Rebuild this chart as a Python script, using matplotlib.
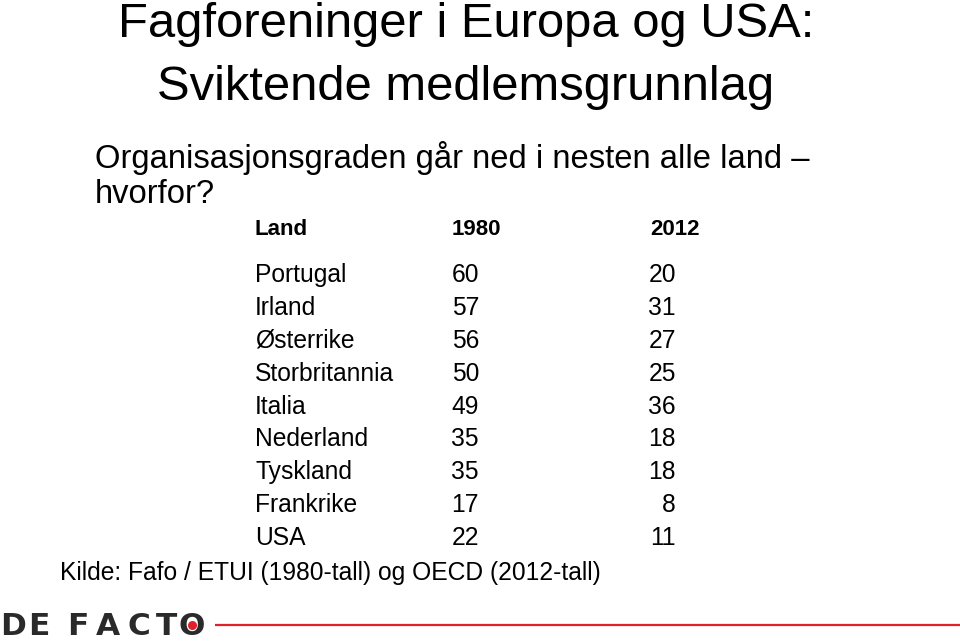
import matplotlib
matplotlib.use("Agg")
import matplotlib.pyplot as plt

plt.rcParams['font.family'] = ['Liberation Sans', 'DejaVu Sans']

title_lines = ["Fagforeninger i Europa og USA:", "Sviktende medlemsgrunnlag"]
subtitle_lines = ["Organisasjonsgraden går ned i nesten alle land –", "hvorfor?"]
headers = ["Land", "1980", "2012"]
countries = ["Portugal", "Irland", "Østerrike", "Storbritannia", "Italia",
             "Nederland", "Tyskland", "Frankrike", "USA"]
v1980 = [60, 57, 56, 50, 49, 35, 35, 17, 22]
v2012 = [20, 31, 27, 25, 36, 18, 18, 8, 11]
source = "Kilde: Fafo / ETUI (1980-tall) og OECD (2012-tall)"
logo = "DEFACTO"

fig = plt.figure(figsize=(9.6, 6.42), dpi=100)
ax = fig.add_axes([0, 0, 1, 1])
ax.set_xlim(0, 960)
ax.set_ylim(642, 0)
ax.axis('off')

# title
ax.text(466, 37, title_lines[0], fontsize=35.3, ha='center', va='baseline', color='black')
ax.text(466, 100, title_lines[1], fontsize=35.3, ha='center', va='baseline', color='black')

# subtitle
ax.text(95, 168, subtitle_lines[0], fontsize=23.6, ha='left', va='baseline', color='black')
ax.text(95, 203, subtitle_lines[1], fontsize=23.6, ha='left', va='baseline', color='black')

# table header
ax.text(255, 235, headers[0], fontsize=16, fontweight='bold', ha='left', va='baseline')
ax.text(452, 235, headers[1], fontsize=16, fontweight='bold', ha='left', va='baseline')
ax.text(650, 235, headers[2], fontsize=16, fontweight='bold', ha='left', va='baseline')

# rows
y0 = 282
dy = 32.9
for i, (c, a, b) in enumerate(zip(countries, v1980, v2012)):
    y = y0 + i * dy
    ax.text(255, y, c, fontsize=17.7, ha='left', va='baseline')
    ax.text(479, y, str(a), fontsize=17.7, ha='right', va='baseline')
    ax.text(676, y, str(b), fontsize=17.7, ha='right', va='baseline')

ax.text(60, 580, source, fontsize=17.7, ha='left', va='baseline')

# logo and red line
letter_x = [13, 39, 78, 108, 139, 166, 192]
for ch, lx in zip(logo, letter_x):
    ax.text(lx, 635, ch, fontsize=22.5, fontweight='bold', ha='center', va='baseline',
            color='#2a2a2a', family=['DejaVu Sans'])
ax.plot([192], [624.5], 'o', color='#e0202a', ms=6.5, mec='none')
ax.plot([215, 960], [625, 625], color='#e0202a', lw=1.6, solid_capstyle='butt')

fig.savefig("out.png", dpi=100, facecolor='white')
